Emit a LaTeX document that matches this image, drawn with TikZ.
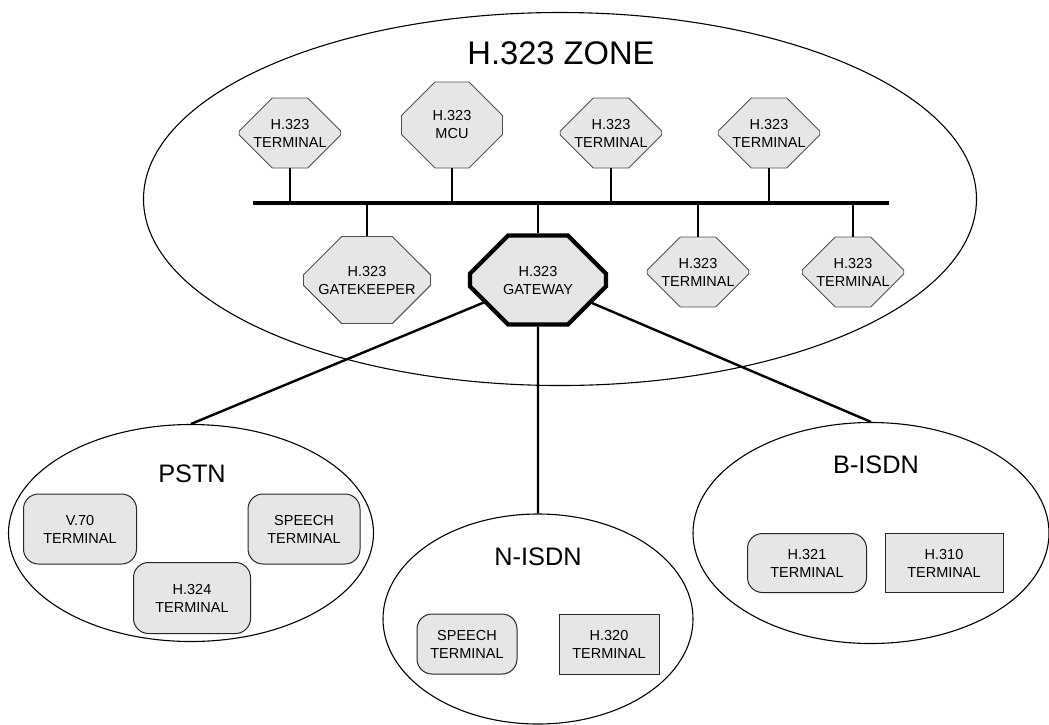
\documentclass[tikz,border=0pt]{standalone}
\usepackage{fontspec}
\setmainfont{Liberation Sans}
\usetikzlibrary{shapes.geometric,shapes.misc}
\definecolor{boxfill}{HTML}{E6E6E6}
\definecolor{boxline}{HTML}{505050}

\begin{document}
\begin{tikzpicture}[
  x=1pt, y=-1pt,
  font=\fontsize{14.5}{18}\selectfont,
  net/.style={ellipse, draw, line width=1.1pt, inner sep=0pt},
  netlbl/.style={font=\fontsize{25.3}{28}\selectfont, anchor=base},
  oct/.style={chamfered rectangle, chamfered rectangle xsep=22pt, chamfered rectangle ysep=19pt, draw=boxline, line width=0.9pt, fill=boxfill, inner sep=0pt, minimum width=99pt, minimum height=70pt, align=center},
  bigoct/.style={oct, chamfered rectangle xsep=32pt, chamfered rectangle ysep=24pt},
  gwy/.style={bigoct, draw=black, line width=4.2pt},
  rterm/.style={rectangle, rounded corners=15pt, draw=black!85, line width=1pt, fill=boxfill, inner sep=0pt, align=center},
  sterm/.style={rectangle, draw=black!85, line width=1pt, fill=boxfill, inner sep=0pt, align=center},
  bus/.style={line width=3.4pt},
  stem/.style={line width=2.1pt},
  link/.style={line width=2.4pt},
]
\useasboundingbox (0,0) rectangle (1049,724);
% zone and the three networks
\node[net, minimum width=833pt, minimum height=373pt] (zone) at (560,199) {};
\node[net, minimum width=365pt, minimum height=217pt] (pstn) at (191,533) {};
\node[net, minimum width=310pt, minimum height=210pt] (nisdn) at (538,619) {};
\node[net, minimum width=356pt, minimum height=221pt] (bisdn) at (871,533) {};
\node[netlbl, font=\fontsize{32.7}{36}\selectfont] (zonelbl) at (561,64) {H.323 ZONE};
\node[netlbl] (pstnlbl) at (192,482) {PSTN};
\node[netlbl] (nisdnlbl) at (538,565) {N-ISDN};
\node[netlbl] (bisdnlbl) at (876,473) {B-ISDN};
% H.323 endpoints on the LAN
\coordinate (busL) at (253,203);
\coordinate (busR) at (889,203);
\node[oct] (t1) at (290,133) {H.323\\TERMINAL};
\node[bigoct, minimum width=101pt, minimum height=86pt, chamfered rectangle xsep=27pt, chamfered rectangle ysep=22pt] (mcu) at (452,125) {H.323\\MCU};
\node[oct] (t3) at (611,133) {H.323\\TERMINAL};
\node[oct] (t4) at (769,133) {H.323\\TERMINAL};
\node[bigoct, minimum width=127pt, minimum height=87pt] (gk) at (367,280) {H.323\\GATEKEEPER};
\node[gwy, minimum width=136pt, minimum height=89pt] (gw) at (538,280) {H.323\\GATEWAY};
\node[oct, minimum width=100pt] (t5) at (698,272) {H.323\\TERMINAL};
\node[oct, minimum width=100pt] (t6) at (853,272) {H.323\\TERMINAL};
\draw[bus] (busL) -- (busR);
\foreach \n in {t1,mcu,t3,t4,gk,gw,t5,t6} \draw[stem] (\n) -- (\n |- busL);
% terminals in the switched networks
\node[rterm, minimum width=113pt, minimum height=70pt] (v70) at (80,529) {V.70\\TERMINAL};
\node[rterm, minimum width=117pt, minimum height=71pt] (h324) at (192,598) {H.324\\TERMINAL};
\node[rterm, minimum width=112pt, minimum height=70pt] (pspeech) at (304,529) {SPEECH\\TERMINAL};
\node[rterm, minimum width=100pt, minimum height=60pt] (nspeech) at (467,644) {SPEECH\\TERMINAL};
\node[sterm, minimum width=100pt, minimum height=60pt] (h320) at (609,644) {H.320\\TERMINAL};
\node[rterm, minimum width=119pt, minimum height=59pt] (h321) at (807,563) {H.321\\TERMINAL};
\node[sterm, minimum width=118pt, minimum height=59pt] (h310) at (944,563) {H.310\\TERMINAL};
% gateway links
\foreach \n in {pstn,nisdn,bisdn} \draw[link] (gw) -- (\n.north);
\end{tikzpicture}
\end{document}
